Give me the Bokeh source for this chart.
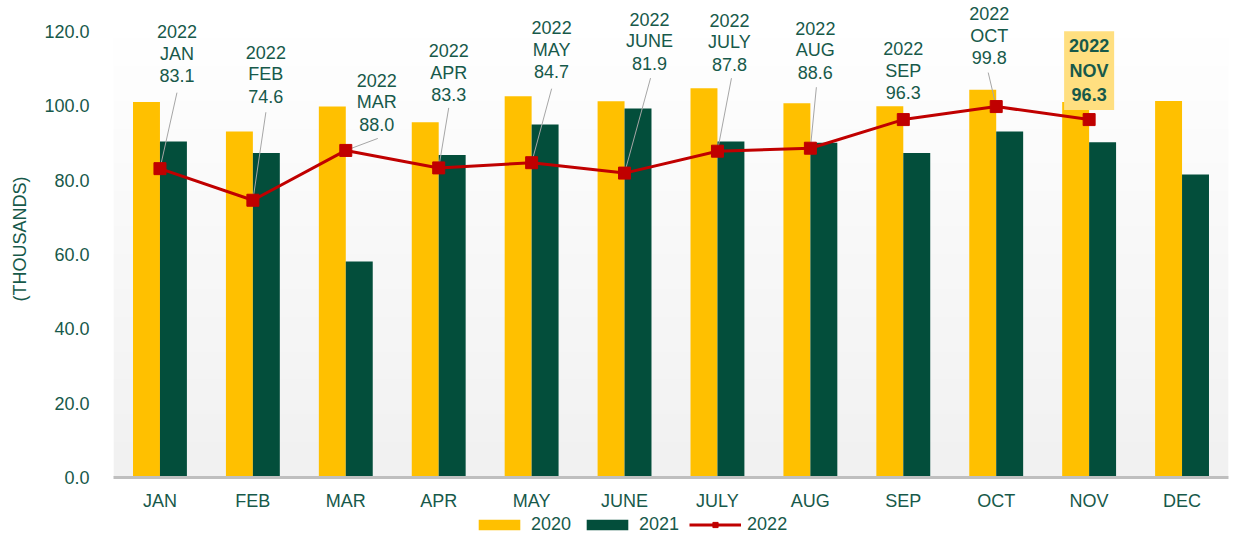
import numpy as np
from bokeh.plotting import figure
from bokeh.layouts import column
from bokeh.core.properties import value
from bokeh.models import (ColumnDataSource, Range1d, FixedTicker, NumeralTickFormatter,
                          LabelSet, Label, Legend, LegendItem)
from bokeh.embed import file_html
from bokeh.resources import INLINE

# ---------------- data ----------------
months = ["JAN", "FEB", "MAR", "APR", "MAY", "JUNE", "JULY", "AUG", "SEP", "OCT", "NOV", "DEC"]
v2020 = [101.0, 93.1, 99.8, 95.6, 102.6, 101.2, 104.7, 100.7, 99.9, 104.3, 101.0, 101.3]
v2021 = [90.4, 87.3, 58.1, 86.8, 95.0, 99.3, 90.4, 90.1, 87.3, 93.1, 90.2, 81.5]
v2022 = [83.1, 74.6, 88.0, 83.3, 84.7, 81.9, 87.8, 88.6, 96.3, 99.8, 96.3]
series_names = ["2020", "2021", "2022"]
y_ticks = [0, 20, 40, 60, 80, 100, 120]
y_title = "(THOUSANDS)"

# ---------------- layout / style ----------------
FONT = "Liberation Sans"
TXT = "#17594A"
C2020 = "#FFC000"
C2021 = "#034E3B"
C2022 = "#C00000"
W, H = 1232, 513
FL, FR, FT, FB = 113, 4, 0, 36
fw, fh = W - FL - FR, H - FT - FB
ymax = y_ticks[-1]
top_gap = 31                       # px of free space above the 120 line (room for labels)
sx = len(months) / fw              # data units per pixel (x)
sy = ymax / (fh - top_gap)         # data units per pixel (y)
ytop = ymax + top_gap * sy

# annotation label offsets in pixels (dx right, dy up to last text line centre)
lab_dx = [17, 13, 31, 10, 20, 25, 12, 5, 0, -7, 0]
lab_dy = [93, 104, 26, 73, 91, 110, 87, 76, 27, 49, 27]
line_gap = 22
lead_dx = [17, 13, 32, 10, 20, 26, 14, 6, 0, -8, 0]
lead_up = [76, 88, 12, 60, 74, 95, 73, 61, 0, 34, 0]
has_lead = [1, 1, 1, 1, 1, 1, 1, 1, 0, 1, 0]

xs = np.arange(len(months)) + 0.5
n22 = len(v2022)
x22 = xs[:n22]

p = figure(width=W, height=H, x_range=Range1d(0, len(months)), y_range=Range1d(0, ytop),
           output_backend="svg", toolbar_location=None,
           min_border_left=FL, min_border_right=FR, min_border_top=FT, min_border_bottom=FB,
           outline_line_color=None, border_fill_color="white", background_fill_color="white")

# gradient plot background (0 .. 120 only)
nrow = 64
g = np.linspace(0xF1, 0xFF, nrow).astype(np.uint32)
img = np.zeros((nrow, 1), dtype=np.uint32)
view = img.view(dtype=np.uint8).reshape((nrow, 1, 4))
view[:, 0, 0] = g
view[:, 0, 1] = g
view[:, 0, 2] = g
view[:, 0, 3] = 255
p.image_rgba(image=[img], x=0, y=0, dw=len(months), dh=ymax)

bw = 0.29
bar20 = dict(fill_color=C2020, line_color=None)
bar21 = dict(fill_color=C2021, line_color=None)
p.vbar(x=xs - bw / 2, top=v2020, width=bw, **bar20)
p.vbar(x=xs + bw / 2, top=v2021, width=bw, **bar21)

# leader lines
lx0, ly0, lx1, ly1 = [], [], [], []
for i in range(n22):
    if has_lead[i]:
        lx0.append(x22[i]); ly0.append(v2022[i])
        lx1.append(x22[i] + lead_dx[i] * sx); ly1.append(v2022[i] + lead_up[i] * sy)
p.segment(x0=lx0, y0=ly0, x1=lx1, y1=ly1, line_color="#A6A6A6", line_width=1)

ln22 = dict(line_color=C2022, line_width=3)
mk22 = dict(marker="square", size=12, fill_color=C2022, line_color=C2022)
p.line(x22, v2022, **ln22)
p.scatter(x22, v2022, **mk22)

# data labels: three centred lines each (year / month / value)
hl = n22 - 1  # highlighted (latest) month
tx, ty, tt = [], [], []
for i in range(hl):
    parts = [series_names[2], months[i], f"{v2022[i]:.1f}"]
    for k, s in enumerate(parts):
        tx.append(x22[i] + lab_dx[i] * sx)
        ty.append(v2022[i] + (lab_dy[i] + line_gap * (2 - k)) * sy)
        tt.append(s)
lsrc = ColumnDataSource(dict(x=tx, y=ty, text=tt))
p.add_layout(LabelSet(x="x", y="y", text="text", source=lsrc, text_align="center",
                      text_baseline="middle", text_font=value(FONT), text_font_size="18px",
                      text_color=TXT))
p.add_layout(Label(x=x22[hl] + lab_dx[hl] * sx, y=v2022[hl] + (lab_dy[hl] + line_gap) * sy,
                   text=f"{series_names[2]}\n{months[hl]}\n{v2022[hl]:.1f}",
                   text_align="center", text_baseline="middle", text_font=FONT,
                   text_font_size="18px", text_font_style="bold", text_color=TXT,
                   text_line_height=1.22, background_fill_color="#FFDF80", padding=5))

# axes
p.xgrid.visible = False
p.ygrid.visible = False
p.yaxis.ticker = FixedTicker(ticks=y_ticks)
p.yaxis.formatter = NumeralTickFormatter(format="0.0")
p.yaxis.axis_label = y_title
p.yaxis.axis_label_text_font = FONT
p.yaxis.axis_label_text_font_size = "18px"
p.yaxis.axis_label_text_font_style = "normal"
p.yaxis.axis_label_text_color = TXT
p.yaxis.axis_label_standoff = 11
p.yaxis.axis_line_color = None
p.yaxis.major_tick_line_color = None
p.yaxis.minor_tick_line_color = None
p.yaxis.major_label_standoff = 18
p.yaxis.major_label_text_font = FONT
p.yaxis.major_label_text_font_size = "18px"
p.yaxis.major_label_text_color = TXT

p.xaxis.ticker = FixedTicker(ticks=list(xs))
p.xaxis.major_label_overrides = {float(x): m for x, m in zip(xs, months)}
p.xaxis.axis_line_color = "#BFBFBF"
p.xaxis.axis_line_width = 3
p.xaxis.major_tick_line_color = None
p.xaxis.minor_tick_line_color = None
p.xaxis.major_label_standoff = 7
p.xaxis.major_label_text_font = FONT
p.xaxis.major_label_text_font_size = "18px"
p.xaxis.major_label_text_color = TXT

# legend strip: a small figure whose glyphs use the same data and styles,
# with its ranges placed so that only the legend shows
LH = 25
q = figure(width=W, height=LH, x_range=Range1d(1000, 1001), y_range=Range1d(1000, 1001),
           output_backend="svg", toolbar_location=None,
           min_border_left=FL, min_border_right=FR, min_border_top=0, min_border_bottom=0,
           outline_line_color=None, border_fill_color="white", background_fill_color="white")
q.axis.visible = False
q.grid.visible = False
e20 = q.vbar(x=xs - bw / 2, top=v2020, width=bw, **bar20)
e21 = q.vbar(x=xs + bw / 2, top=v2021, width=bw, **bar21)
el = q.line(x22, v2022, **ln22)
es = q.scatter(x22, v2022, **mk22)
legend = Legend(items=[LegendItem(label=series_names[0], renderers=[e20]),
                       LegendItem(label=series_names[1], renderers=[e21]),
                       LegendItem(label=series_names[2], renderers=[el, es])],
                orientation="horizontal", location=(360, 3), glyph_width=52, glyph_height=13,
                label_text_font=FONT, label_text_font_size="18px", label_text_color=TXT,
                spacing=10, label_standoff=6, padding=2, margin=0,
                border_line_color=None, background_fill_alpha=0)
q.add_layout(legend)

page = column(p, q, spacing=0)
open("out.html", "w").write(file_html(page, INLINE))
